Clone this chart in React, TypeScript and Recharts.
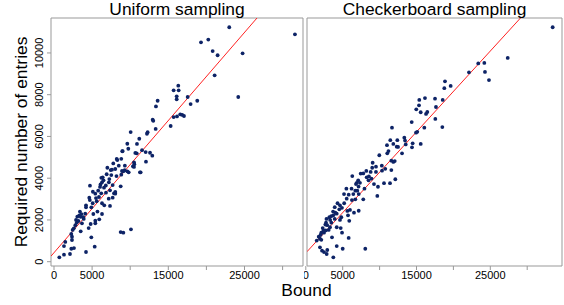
import React from 'react';
import { ScatterChart, Scatter, XAxis, YAxis, ReferenceLine, ReferenceArea } from 'recharts';

// uniform sampling panel
const uniformBound = [
  23000, 31620, 19290, 20250, 20820, 21470, 24750, 21080, 24180, 16310,
  15700, 16360, 16100, 16100, 17540, 13600, 13380, 17930, 18800, 12950,
  13030, 15700, 16140, 16570, 16830, 17060, 15310, 13340, 10060, 12290,
  12200, 11190, 9620, 10890, 9750, 8960, 10850, 12030, 12600, 12900,
  12070, 8310, 7780, 8830, 9620, 10540, 10360, 11280, 7440, 9100,
  8830, 6390, 9010, 10670, 11550, 8230, 10500, 10500, 8040, 7610,
  8920, 9280, 9800, 11370, 7520, 6910, 7260, 6210, 6300, 6560,
  7700, 8750, 4720, 6040, 5420, 7350, 8040, 7700, 4630, 700,
  1310, 2100, 2270, 1310, 2620, 4200, 5340, 4900, 1480, 2360,
  2360, 2270, 2450, 3500, 4550, 8750, 9100, 10100, 2800, 2980,
  3670, 4810, 5420, 5420, 5940, 2890, 3060, 3320, 3850, 5160,
  6300, 4200, 4200, 4900, 5080, 4700, 5510, 6300, 6200, 6820,
  7350, 7180, 7870, 8040, 3500, 3900, 3200, 3600, 4100, 3400,
  2600, 5700, 6600, 5900, 6800, 5800, 6100, 7200, 5100, 5600,
  6500, 8200, 9300, 8500, 7000,
];
const uniformEntries = [
  11230, 10890, 10510, 10640, 10090, 9890, 9980, 8930, 7890, 8430,
  8210, 8210, 7920, 7780, 7890, 7710, 7440, 7550, 7710, 6800,
  6750, 6930, 6960, 7060, 7030, 6980, 6500, 6360, 6210, 6200,
  6130, 5890, 5650, 5640, 5410, 5290, 5190, 5250, 5220, 5080,
  4790, 4870, 4710, 4930, 4330, 4670, 4570, 4280, 4390, 4330,
  4170, 4040, 5300, 5210, 5340, 4920, 4760, 4540, 4440, 4410,
  4345, 4380, 4280, 4280, 4150, 4190, 3960, 4020, 3800, 3545,
  3670, 3610, 3640, 3580, 3260, 3420, 3260, 3065, 3065, 210,
  335, 370, 620, 750, 655, 465, 720, 1170, 945, 1040,
  1200, 1330, 1520, 1455, 1610, 1420, 1390, 1550, 1745, 1870,
  1840, 1805, 1840, 1965, 2030, 2000, 2155, 2220, 2130, 2285,
  2285, 2700, 2605, 2605, 2800, 2950, 3050, 2800, 3275, 3305,
  2670, 3020, 3275, 3340, 2150, 2050, 1950, 2280, 2300, 2400,
  1600, 2400, 2700, 3100, 3650, 3400, 3700, 3800, 3350, 2900,
  3900, 4100, 4600, 4600, 4500,
];

// checkerboard sampling panel
const checkerBound = [
  33450, 27360, 23370, 24190, 22110, 24280, 24820, 18860, 18770, 19630,
  15380, 16150, 17510, 18550, 15340, 14970, 15570, 16290, 16460, 17640,
  17550, 14350, 11680, 16060, 18500, 14930, 15100, 11450, 11860, 12400,
  11000, 12320, 13350, 13450, 13540, 14480, 14390, 15570, 11040, 9960,
  13040, 11590, 11860, 12050, 9060, 9510, 10770, 11590, 10330, 7440,
  7790, 8790, 8250, 8550, 8900, 12130, 10600, 11410, 9240, 9780,
  7340, 6900, 7150, 7950, 6710, 6980, 7170, 6440, 9690, 5180,
  5810, 7790, 6710, 6250, 5540, 4630, 4900, 4540, 3920, 4190,
  5990, 5630, 6530, 7170, 5720, 3730, 3450, 3190, 3920, 4810,
  4630, 5890, 2740, 2650, 3460, 3280, 4190, 2290, 3100, 4730,
  2100, 2020, 2470, 3550, 4910, 5810, 1750, 1480, 1920, 2100,
  1920, 2200, 2470, 2830, 2910, 4190, 5000, 3730, 8060, 6800,
  7100, 9510, 8200, 10300, 2400, 2900, 3700, 4300, 5200, 5500,
  6200, 8500, 9000, 11200, 12500, 2700, 3300, 4000, 2800, 6300,
];
const checkerEntries = [
  11230, 9760, 9500, 9520, 9070, 9090, 8700, 8640, 8310, 8420,
  7750, 7840, 7810, 7750, 7490, 7300, 7160, 7080, 7170, 7410,
  6840, 6690, 6420, 6420, 6450, 6180, 6220, 5820, 5640, 5820,
  5580, 5510, 5940, 5800, 5620, 5670, 5480, 5640, 5190, 5100,
  5190, 4840, 4780, 4820, 4740, 4550, 4450, 4390, 4360, 4220,
  4230, 4300, 4040, 4090, 3980, 3950, 3760, 3760, 3720, 3590,
  3780, 3780, 3600, 3500, 3400, 3400, 3240, 3240, 3150, 3240,
  3210, 2990, 2990, 2950, 3020, 2700, 2580, 2510, 2610, 2300,
  2480, 2430, 2350, 2440, 2220, 2220, 2180, 2130, 2050, 2130,
  2000, 1960, 1870, 1780, 1870, 1650, 1650, 1610, 1520, 1610,
  1390, 1290, 1390, 1170, 1390, 1140, 1200, 1010, 1100, 1050,
  690, 530, 460, 370, 560, 750, 620, 210, 620, 3720,
  3900, 4300, 4350, 4600, 1500, 1750, 2400, 2800, 2800, 3500,
  3500, 3900, 4500, 5300, 5500, 1500, 2000, 2350, 2050, 4100,
];

// least-squares fits (intercept, slope)
const uniformFit = [432, 0.422];
const checkerFit = [416, 0.387];

const yTicks = [0, 2000, 4000, 6000, 8000, 10000];
const xTicks = [0, 5000, 10000, 15000, 20000, 25000, 30000];
const xLabelled = [0, 5000, 15000, 25000];

const Y_DOMAIN: [number, number] = [-206, 11674];
const UNIFORM_X: [number, number] = [-394, 32677];
const CHECKER_X: [number, number] = [163, 34715];

const FONT = '"Liberation Sans", Arial, sans-serif';
const BOX = '#999999';
const DOT = '#0d2366';

const toRows = (xs: number[], ys: number[]) => xs.map((x, i) => ({ x, y: ys[i] }));

const Dot = (props: any) => <circle cx={props.cx} cy={props.cy} r={1.9} fill={DOT} />;

const YTick = (props: any) => {
  const { x, y, payload } = props;
  return (
    <text
      x={x}
      y={y}
      transform={`rotate(-90, ${x}, ${y})`}
      textAnchor="middle"
      fontSize={11}
      fontFamily={FONT}
      fill="#000"
    >
      {payload.value}
    </text>
  );
};

// R drops labels that would collide, so only some ticks get text
const XTick = (props: any) => {
  const { x, y, payload } = props;
  if (!xLabelled.includes(payload.value)) return <g />;
  return (
    <text x={x} y={y} dy="0.71em" textAnchor="middle" fontSize={11} fontFamily={FONT} fill="#000">
      {payload.value}
    </text>
  );
};

function Panel({
  xs,
  ys,
  fit,
  xDomain,
  showY,
  width,
  margin,
}: {
  xs: number[];
  ys: number[];
  fit: number[];
  xDomain: [number, number];
  showY: boolean;
  width: number;
  margin: { top: number; right: number; bottom: number; left: number };
}) {
  const rows = toRows(xs, ys);
  const [a, b] = fit;
  return (
    <ScatterChart width={width} height={305} margin={margin}>
      <XAxis
        type="number"
        dataKey="x"
        domain={xDomain}
        ticks={xTicks}
        interval={0}
        allowDataOverflow
        axisLine={false}
        tickLine={{ stroke: BOX }}
        tickSize={4}
        tickMargin={1}
        height={30}
        tick={<XTick />}
      />
      <YAxis
        type="number"
        dataKey="y"
        domain={Y_DOMAIN}
        ticks={yTicks}
        interval={0}
        allowDataOverflow
        hide={!showY}
        width={showY ? 51 : 0}
        axisLine={false}
        tickLine={{ stroke: BOX }}
        tickSize={4}
        tickMargin={4}
        tick={<YTick />}
      />
      <ReferenceArea
        x1={xDomain[0]}
        x2={xDomain[1]}
        y1={Y_DOMAIN[0]}
        y2={Y_DOMAIN[1]}
        fill="none"
        stroke={BOX}
        strokeWidth={1}
        ifOverflow="visible"
      />
      <ReferenceLine
        segment={[
          { x: xDomain[0], y: a + b * xDomain[0] },
          { x: xDomain[1], y: a + b * xDomain[1] },
        ]}
        stroke="#ff2222"
        strokeWidth={1}
        ifOverflow="hidden"
      />
      <Scatter data={rows} shape={Dot} isAnimationActive={false} />
    </ScatterChart>
  );
}

export default function App() {
  return (
    <div style={{ position: 'absolute', left: 0, top: 0, width: 564, height: 305, background: '#fff' }}>
      <div style={{ position: 'absolute', left: 0, top: 0 }}>
        <Panel
          xs={uniformBound}
          ys={uniformEntries}
          fit={uniformFit}
          xDomain={UNIFORM_X}
          showY
          width={306}
          margin={{ top: 18, right: 3, bottom: 9, left: 0 }}
        />
      </div>
      <div style={{ position: 'absolute', left: 304, top: 0 }}>
        <Panel
          xs={checkerBound}
          ys={checkerEntries}
          fit={checkerFit}
          xDomain={CHECKER_X}
          showY={false}
          width={260}
          margin={{ top: 18, right: 2, bottom: 9, left: 3 }}
        />
      </div>
      <svg
        width={564}
        height={305}
        style={{ position: 'absolute', left: 0, top: 0, pointerEvents: 'none' }}
        fontFamily={FONT}
        fontSize={17.4}
      >
        <text x={177} y={15} textAnchor="middle">Uniform sampling</text>
        <text x={434.5} y={15} textAnchor="middle">Checkerboard sampling</text>
        <text x={306.5} y={296} textAnchor="middle">Bound</text>
        <text x={27} y={142} textAnchor="middle" transform="rotate(-90, 27, 142)">
          Required number of entries
        </text>
      </svg>
    </div>
  );
}
